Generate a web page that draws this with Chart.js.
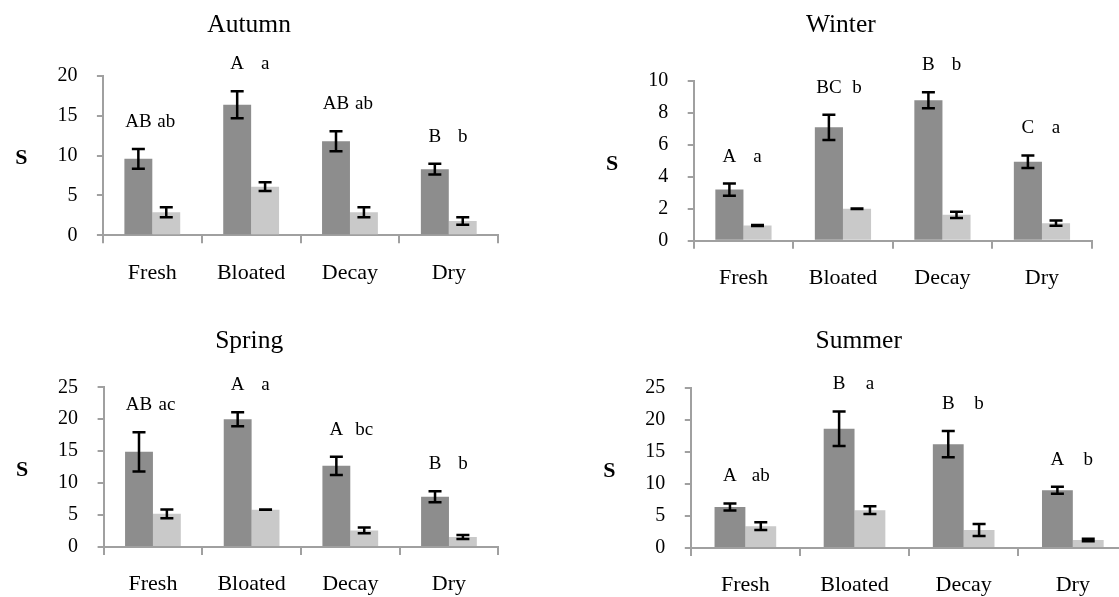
<!DOCTYPE html>
<html>
<head>
<meta charset="utf-8">
<script src="https://cdn.jsdelivr.net/npm/chart.js@4.4.1/dist/chart.umd.min.js"></script>
<style>
  html, body { margin: 0; padding: 0; background: #fff; overflow: hidden; width: 1119px; height: 597px; }
  canvas { position: absolute; }
</style>
</head>
<body>
<canvas id="autumn"></canvas>
<canvas id="winter"></canvas>
<canvas id="spring"></canvas>
<canvas id="summer"></canvas>
<script>
const stages = ['Fresh', 'Bloated', 'Decay', 'Dry'];

// Autumn
const autumnDark = [9.6, 16.4, 11.8, 8.3];
const autumnDarkErr = [1.25, 1.7, 1.25, 0.67];
const autumnLight = [2.9, 6.1, 2.9, 1.8];
const autumnLightErr = [0.63, 0.55, 0.63, 0.46];
const autumnUpper = ['AB', 'A', 'AB', 'B'];
const autumnLower = ['ab', 'a', 'ab', 'b'];

// Winter
const winterDark = [3.2, 7.1, 8.8, 4.95];
const winterDarkErr = [0.38, 0.79, 0.5, 0.39];
const winterLight = [0.95, 2.0, 1.62, 1.1];
const winterLightErr = [0.03, 0.02, 0.2, 0.17];
const winterUpper = ['A', 'BC', 'B', 'C'];
const winterLower = ['a', 'b', 'b', 'a'];

// Spring
const springDark = [14.9, 20.0, 12.7, 7.85];
const springDarkErr = [3.07, 1.1, 1.43, 0.86];
const springLight = [5.2, 5.85, 2.6, 1.55];
const springLightErr = [0.68, 0.03, 0.45, 0.31];
const springUpper = ['AB', 'A', 'A', 'B'];
const springLower = ['ac', 'a', 'bc', 'b'];

// Summer
const summerDark = [6.4, 18.6, 16.2, 9.0];
const summerDarkErr = [0.55, 2.7, 2.03, 0.55];
const summerLight = [3.4, 5.9, 2.8, 1.25];
const summerLightErr = [0.6, 0.6, 0.94, 0.2];
const summerUpper = ['A', 'B', 'B', 'A'];
const summerLower = ['ab', 'a', 'b', 'b'];

const yMax = { autumn: 20, winter: 10, spring: 25, summer: 25 };
const yStep = { autumn: 5, winter: 2, spring: 5, summer: 5 };

const SERIF = '"Liberation Serif", "Times New Roman", serif';
const AXIS = '#a0a0a0';
const DARK = '#8d8d8d';
const LIGHT = '#c9c9c9';
const TITLE_SIZE = 25.5;

// draws the black error bars on top of every bar
const errorBars = {
    id: 'errorBars',
    afterDatasetsDraw(chart) {
        const ctx = chart.ctx;
        const y = chart.scales.y;
        ctx.save();
        ctx.strokeStyle = '#000';
        ctx.lineWidth = 2.5;
        chart.data.datasets.forEach((ds, di) => {
            chart.getDatasetMeta(di).data.forEach((bar, i) => {
                const hi = y.getPixelForValue(ds.data[i] + ds.errors[i]);
                const lo = y.getPixelForValue(ds.data[i] - ds.errors[i]);
                ctx.beginPath();
                ctx.moveTo(bar.x, hi); ctx.lineTo(bar.x, lo);
                ctx.moveTo(bar.x - 6.5, hi); ctx.lineTo(bar.x + 6.5, hi);
                ctx.moveTo(bar.x - 6.5, lo); ctx.lineTo(bar.x + 6.5, lo);
                ctx.stroke();
            });
        });
        ctx.restore();
    }
};

// significance letters above each group and the "S" axis label
const letters = {
    id: 'letters',
    afterDatasetsDraw(chart) {
        const ctx = chart.ctx;
        const y = chart.scales.y;
        const area = chart.chartArea;
        const dark = chart.data.datasets[0];
        ctx.save();
        ctx.fillStyle = '#000';
        ctx.textAlign = 'center';
        ctx.textBaseline = 'middle';
        ctx.font = '19px ' + SERIF;
        chart.data.datasets.forEach((ds, di) => {
            chart.getDatasetMeta(di).data.forEach((bar, i) => {
                const top = y.getPixelForValue(dark.data[i] + dark.errors[i]);
                ctx.fillText(ds.letters[i], bar.x, top - 27);
            });
        });
        ctx.font = 'bold 22px ' + SERIF;
        ctx.fillText('S', area.left - 81.5, (area.top + area.bottom) / 2 + 3);
        ctx.restore();
    }
};

function drawPanel(id, title, dark, darkErr, light, lightErr, upper, lower, box, area, titleY) {
    const canvas = document.getElementById(id);
    canvas.width = box.width;
    canvas.height = box.height;
    canvas.style.left = box.left + 'px';
    canvas.style.top = box.top + 'px';

    const lineH = TITLE_SIZE * 1.2;
    const padTop = titleY - box.top - lineH / 2;
    const padBottom = (area.top - box.top) - lineH - padTop;

    new Chart(canvas, {
        type: 'bar',
        data: {
            labels: stages,
            datasets: [
                { data: dark, errors: darkErr, letters: upper, backgroundColor: DARK },
                { data: light, errors: lightErr, letters: lower, backgroundColor: LIGHT }
            ]
        },
        options: {
            responsive: false,
            animation: false,
            events: [],
            layout: { padding: { left: 0, top: 0, bottom: 0, right: box.left + box.width - area.right } },
            datasets: { bar: { categoryPercentage: 0.565, barPercentage: 1, borderWidth: 0 } },
            plugins: {
                legend: { display: false },
                tooltip: { enabled: false },
                title: {
                    display: true,
                    text: title,
                    color: '#000',
                    font: { family: SERIF, size: TITLE_SIZE, weight: 'normal' },
                    padding: { top: padTop, bottom: padBottom }
                }
            },
            scales: {
                x: {
                    grid: { drawOnChartArea: false, tickLength: 8, color: AXIS, lineWidth: 2 },
                    border: { color: AXIS, width: 2 },
                    ticks: { color: '#000', font: { family: SERIF, size: 22 }, padding: 16.3, maxRotation: 0, autoSkip: false },
                    afterFit: s => { s.height = box.top + box.height - area.bottom; }
                },
                y: {
                    min: 0,
                    max: yMax[id],
                    grid: { drawOnChartArea: false, tickLength: 6, color: AXIS, lineWidth: 2 },
                    border: { color: AXIS, width: 2 },
                    ticks: { stepSize: yStep[id], color: '#000', font: { family: SERIF, size: 20 }, padding: 19.5 },
                    afterFit: s => { s.width = area.left - box.left; }
                }
            }
        },
        plugins: [errorBars, letters]
    });
}

drawPanel('autumn', 'Autumn', autumnDark, autumnDarkErr, autumnLight, autumnLightErr, autumnUpper, autumnLower,
    { left: 0, top: 0, width: 500, height: 298 }, { left: 102.9, top: 76, right: 498.2, bottom: 235.3 }, 25);
drawPanel('winter', 'Winter', winterDark, winterDarkErr, winterLight, winterLightErr, winterUpper, winterLower,
    { left: 590, top: 0, width: 543.2, height: 298 }, { left: 693.7, top: 81, right: 1091.9, bottom: 240.7 }, 25);
drawPanel('spring', 'Spring', springDark, springDarkErr, springLight, springLightErr, springUpper, springLower,
    { left: 0, top: 299, width: 503.6, height: 298 }, { left: 103.6, top: 387.3, right: 498.9, bottom: 547 }, 341.7);
drawPanel('summer', 'Summer', summerDark, summerDarkErr, summerLight, summerLightErr, summerUpper, summerLower,
    { left: 590, top: 299, width: 543.6, height: 298 }, { left: 690.8, top: 387.7, right: 1128, bottom: 548 }, 341.7);
</script>
</body>
</html>
